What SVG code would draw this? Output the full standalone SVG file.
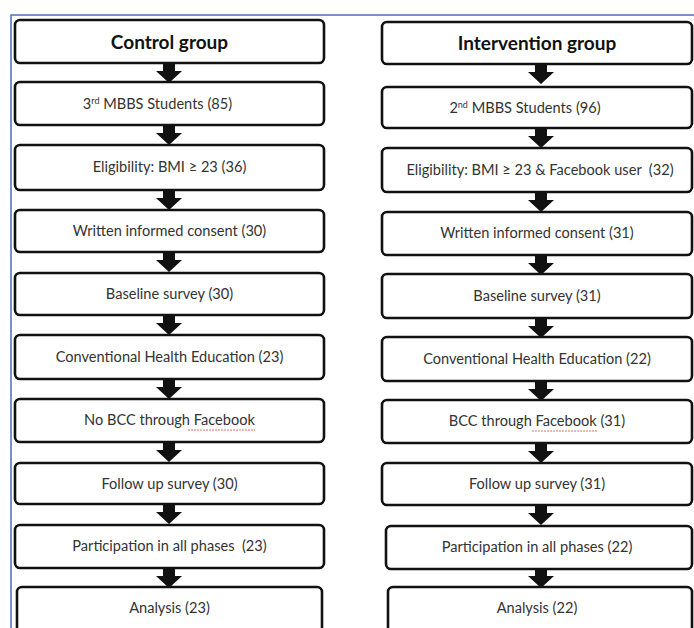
<svg xmlns="http://www.w3.org/2000/svg" width="694" height="628" viewBox="0 0 694 628">
<style>
.box{fill:#fff;stroke:#111;stroke-width:2.6}
.t{font-family:Lato,"Open Sans","Liberation Sans",sans-serif;font-size:14.6px;fill:#333;text-anchor:middle;white-space:pre}
.h{font-family:Lato,"Open Sans","Liberation Sans",sans-serif;font-size:19px;font-weight:bold;fill:#111;text-anchor:middle}
.arr{fill:#111}
.sq{stroke:#e07060;stroke-width:1;stroke-dasharray:2 1;fill:none}
</style>
<defs>
<path id="a" d="M-6,0 H6 V8 H13 L0,20 L-13,8 H-6 Z"/>
</defs>
<rect width="694" height="628" fill="#fff"/>
<path d="M11,628 V15 H694" fill="none" stroke="#4a6fb5" stroke-width="1.5"/>
<g id="connectors">
<use href="#a" class="arr" x="169" y="63"/>
<use href="#a" class="arr" x="169" y="125"/>
<use href="#a" class="arr" x="169" y="190"/>
<use href="#a" class="arr" x="169" y="252"/>
<use href="#a" class="arr" x="169" y="315"/>
<use href="#a" class="arr" x="169" y="379"/>
<use href="#a" class="arr" x="169" y="442"/>
<use href="#a" class="arr" x="169" y="504"/>
<use href="#a" class="arr" x="169" y="568"/>
<use href="#a" class="arr" x="541" y="64"/>
<use href="#a" class="arr" x="541" y="128"/>
<use href="#a" class="arr" x="541" y="192"/>
<use href="#a" class="arr" x="541" y="255"/>
<use href="#a" class="arr" x="541" y="318"/>
<use href="#a" class="arr" x="541" y="381"/>
<use href="#a" class="arr" x="541" y="443"/>
<use href="#a" class="arr" x="541" y="505"/>
<use href="#a" class="arr" x="541" y="568"/>
</g>
<g id="c1"><rect class="box" x="15" y="20" width="309" height="43" rx="5"/><text class="h" x="169.5" y="48.5">Control group</text></g>
<g id="c2"><rect class="box" x="15" y="82" width="309" height="43" rx="5"/><text class="t" x="157.5" y="108.5">3<tspan font-size="9" dy="-5">rd</tspan><tspan dy="5"> MBBS Students (85)</tspan></text></g>
<g id="c3"><rect class="box" x="15" y="145" width="309" height="45" rx="5"/><text class="t" x="169.5" y="172">Eligibility: BMI ≥ 23 (36)</text></g>
<g id="c4"><rect class="box" x="15" y="210" width="309" height="42" rx="5"/><text class="t" x="169.5" y="236">Written informed consent (30)</text></g>
<g id="c5"><rect class="box" x="15" y="273" width="309" height="42" rx="5"/><text class="t" x="169.5" y="299">Baseline survey (30)</text></g>
<g id="c6"><rect class="box" x="15" y="335" width="309" height="44" rx="5"/><text class="t" x="169.5" y="362">Conventional Health Education (23)</text></g>
<g id="c7"><rect class="box" x="15" y="399" width="309" height="43" rx="5"/><text class="t" x="169.5" y="425">No BCC through Facebook</text><path class="sq" d="M188,430 H255"/></g>
<g id="c8"><rect class="box" x="15" y="463" width="309" height="41" rx="5"/><text class="t" x="169.5" y="489">Follow up survey (30)</text></g>
<g id="c9"><rect class="box" x="15" y="525" width="309" height="43" rx="5"/><text class="t" x="169.5" y="551">Participation in all phases  (23)</text></g>
<g id="c10"><rect class="box" x="17" y="587" width="305" height="60" rx="5"/><text class="t" x="169.5" y="613">Analysis (23)</text></g>
<g id="i1"><rect class="box" x="382" y="22" width="310" height="42" rx="5"/><text class="h" x="537" y="50">Intervention group</text></g>
<g id="i2"><rect class="box" x="382" y="87" width="310" height="41" rx="5"/><text class="t" x="525" y="112.5">2<tspan font-size="9" dy="-5">nd</tspan><tspan dy="5"> MBBS Students (96)</tspan></text></g>
<g id="i3"><rect class="box" x="382" y="148" width="310" height="44" rx="5"/><text class="t" x="540" y="175">Eligibility: BMI ≥ 23 &amp; Facebook user  (32)</text></g>
<g id="i4"><rect class="box" x="382" y="212" width="310" height="43" rx="5"/><text class="t" x="537" y="238">Written informed consent (31)</text></g>
<g id="i5"><rect class="box" x="382" y="274" width="310" height="44" rx="5"/><text class="t" x="537" y="301">Baseline survey (31)</text></g>
<g id="i6"><rect class="box" x="382" y="337" width="310" height="44" rx="5"/><text class="t" x="537" y="364">Conventional Health Education (22)</text></g>
<g id="i7"><rect class="box" x="382" y="400" width="310" height="43" rx="5"/><text class="t" x="537" y="426">BCC through Facebook (31)</text><path class="sq" d="M532,431 H597"/></g>
<g id="i8"><rect class="box" x="382" y="463" width="310" height="42" rx="5"/><text class="t" x="537" y="489">Follow up survey (31)</text></g>
<g id="i9"><rect class="box" x="386" y="526" width="306" height="43" rx="5"/><text class="t" x="537" y="552">Participation in all phases (22)</text></g>
<g id="i10"><rect class="box" x="388" y="587" width="304" height="60" rx="5"/><text class="t" x="537" y="613">Analysis (22)</text></g>
</svg>
